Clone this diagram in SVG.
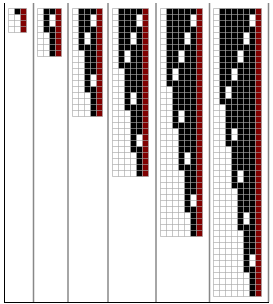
<svg xmlns="http://www.w3.org/2000/svg" width="273" height="304" viewBox="0 0 273 304">
<style>
.b{fill:#000}
.r{fill:#800000}
.m{fill:none;stroke:#a4a4a4;stroke-opacity:0.62;stroke-width:1}
.sep{stroke:#888;stroke-width:1.5}
.frm{stroke:#000;stroke-width:1}
</style>
<rect width="273" height="304" fill="#fff"/>
<g id="frame">
<line class="sep" x1="33.5" y1="3" x2="33.5" y2="302"/>
<line class="sep" x1="68" y1="3" x2="68" y2="302"/>
<line class="sep" x1="108" y1="3" x2="108" y2="302"/>
<line class="sep" x1="156" y1="3" x2="156" y2="302"/>
<line class="sep" x1="209.5" y1="3" x2="209.5" y2="302"/>
<line class="sep" x1="268.5" y1="3" x2="268.5" y2="302"/>
<line class="frm" x1="4.5" y1="3" x2="4.5" y2="302.5"/>
<line class="frm" x1="4" y1="302.5" x2="269" y2="302.5"/>
</g>
<g id="panel1" transform="translate(8.5,8.5)">
<rect class="b" x="6" y="0" width="6" height="6"/>
<rect class="r" x="12" y="0" width="6" height="24"/>
<path class="m" d="M0 0V24M6 0V24M12 0V24M18 0V24M0 0H18M0 6H18M0 12H18M0 18H18M0 24H18"/>
</g>
<g id="panel2" transform="translate(37.5,8.5)">
<rect class="b" x="6" y="0" width="6" height="24"/>
<rect class="b" x="12" y="0" width="6" height="6"/>
<rect class="b" x="12" y="18" width="6" height="30"/>
<rect class="r" x="18" y="0" width="6" height="48"/>
<path class="m" d="M0 0V48M6 0V48M12 0V48M18 0V48M24 0V48M0 0H24M0 6H24M0 12H24M0 18H24M0 24H24M0 30H24M0 36H24M0 42H24M0 48H24"/>
</g>
<g id="panel3" transform="translate(72.5,8.5)">
<rect class="b" x="6" y="0" width="6" height="42"/>
<rect class="b" x="12" y="0" width="6" height="24"/>
<rect class="b" x="12" y="36" width="6" height="48"/>
<rect class="b" x="18" y="0" width="6" height="6"/>
<rect class="b" x="18" y="18" width="6" height="48"/>
<rect class="b" x="18" y="78" width="6" height="30"/>
<rect class="r" x="24" y="0" width="6" height="108"/>
<path class="m" d="M0 0V108M6 0V108M12 0V108M18 0V108M24 0V108M30 0V108M0 0H30M0 6H30M0 12H30M0 18H30M0 24H30M0 30H30M0 36H30M0 42H30M0 48H30M0 54H30M0 60H30M0 66H30M0 72H30M0 78H30M0 84H30M0 90H30M0 96H30M0 102H30M0 108H30"/>
</g>
<g id="panel4" transform="translate(112.5,8.5)">
<rect class="b" x="6" y="0" width="6" height="60"/>
<rect class="b" x="12" y="0" width="6" height="42"/>
<rect class="b" x="12" y="54" width="6" height="48"/>
<rect class="b" x="18" y="0" width="6" height="24"/>
<rect class="b" x="18" y="36" width="6" height="48"/>
<rect class="b" x="18" y="96" width="6" height="48"/>
<rect class="b" x="24" y="0" width="6" height="6"/>
<rect class="b" x="24" y="18" width="6" height="108"/>
<rect class="b" x="24" y="138" width="6" height="30"/>
<rect class="r" x="30" y="0" width="6" height="168"/>
<path class="m" d="M0 0V168M6 0V168M12 0V168M18 0V168M24 0V168M30 0V168M36 0V168M0 0H36M0 6H36M0 12H36M0 18H36M0 24H36M0 30H36M0 36H36M0 42H36M0 48H36M0 54H36M0 60H36M0 66H36M0 72H36M0 78H36M0 84H36M0 90H36M0 96H36M0 102H36M0 108H36M0 114H36M0 120H36M0 126H36M0 132H36M0 138H36M0 144H36M0 150H36M0 156H36M0 162H36M0 168H36"/>
</g>
<g id="panel5" transform="translate(160.5,8.5)">
<rect class="b" x="6" y="0" width="6" height="78"/>
<rect class="b" x="12" y="0" width="6" height="60"/>
<rect class="b" x="12" y="72" width="6" height="48"/>
<rect class="b" x="18" y="0" width="6" height="42"/>
<rect class="b" x="18" y="54" width="6" height="48"/>
<rect class="b" x="18" y="114" width="6" height="48"/>
<rect class="b" x="24" y="0" width="6" height="24"/>
<rect class="b" x="24" y="36" width="6" height="108"/>
<rect class="b" x="24" y="156" width="6" height="48"/>
<rect class="b" x="30" y="0" width="6" height="6"/>
<rect class="b" x="30" y="18" width="6" height="168"/>
<rect class="b" x="30" y="198" width="6" height="30"/>
<rect class="r" x="36" y="0" width="6" height="228"/>
<path class="m" d="M0 0V228M6 0V228M12 0V228M18 0V228M24 0V228M30 0V228M36 0V228M42 0V228M0 0H42M0 6H42M0 12H42M0 18H42M0 24H42M0 30H42M0 36H42M0 42H42M0 48H42M0 54H42M0 60H42M0 66H42M0 72H42M0 78H42M0 84H42M0 90H42M0 96H42M0 102H42M0 108H42M0 114H42M0 120H42M0 126H42M0 132H42M0 138H42M0 144H42M0 150H42M0 156H42M0 162H42M0 168H42M0 174H42M0 180H42M0 186H42M0 192H42M0 198H42M0 204H42M0 210H42M0 216H42M0 222H42M0 228H42"/>
</g>
<g id="panel6" transform="translate(213.5,8.5)">
<rect class="b" x="6" y="0" width="6" height="96"/>
<rect class="b" x="12" y="0" width="6" height="78"/>
<rect class="b" x="12" y="90" width="6" height="48"/>
<rect class="b" x="18" y="0" width="6" height="60"/>
<rect class="b" x="18" y="72" width="6" height="48"/>
<rect class="b" x="18" y="132" width="6" height="48"/>
<rect class="b" x="24" y="0" width="6" height="42"/>
<rect class="b" x="24" y="54" width="6" height="108"/>
<rect class="b" x="24" y="174" width="6" height="48"/>
<rect class="b" x="30" y="0" width="6" height="24"/>
<rect class="b" x="30" y="36" width="6" height="168"/>
<rect class="b" x="30" y="216" width="6" height="48"/>
<rect class="b" x="36" y="0" width="6" height="6"/>
<rect class="b" x="36" y="18" width="6" height="228"/>
<rect class="b" x="36" y="258" width="6" height="30"/>
<rect class="r" x="42" y="0" width="6" height="288"/>
<path class="m" d="M0 0V288M6 0V288M12 0V288M18 0V288M24 0V288M30 0V288M36 0V288M42 0V288M48 0V288M0 0H48M0 6H48M0 12H48M0 18H48M0 24H48M0 30H48M0 36H48M0 42H48M0 48H48M0 54H48M0 60H48M0 66H48M0 72H48M0 78H48M0 84H48M0 90H48M0 96H48M0 102H48M0 108H48M0 114H48M0 120H48M0 126H48M0 132H48M0 138H48M0 144H48M0 150H48M0 156H48M0 162H48M0 168H48M0 174H48M0 180H48M0 186H48M0 192H48M0 198H48M0 204H48M0 210H48M0 216H48M0 222H48M0 228H48M0 234H48M0 240H48M0 246H48M0 252H48M0 258H48M0 264H48M0 270H48M0 276H48M0 282H48M0 288H48"/>
</g>
</svg>
